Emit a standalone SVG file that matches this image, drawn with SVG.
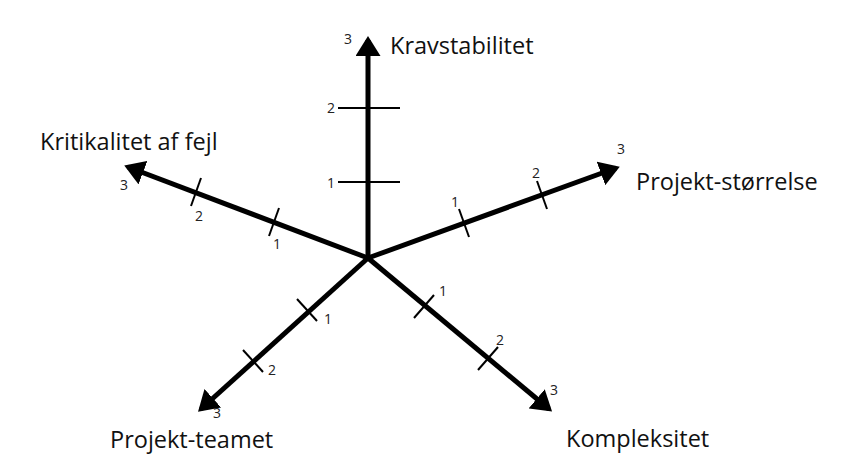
<svg xmlns="http://www.w3.org/2000/svg" width="849" height="471" viewBox="0 0 849 471">
<style>
.ax{stroke:#000;stroke-width:5;fill:none;marker-end:url(#ah)}
.tk{stroke:#000;stroke-width:2}
.n{font-family:"Open Sans","Liberation Sans",sans-serif;font-size:14px;fill:#222}
.l{font-family:"Open Sans","Liberation Sans",sans-serif;font-size:23.5px;fill:#111}
</style>
<defs><marker id="ah" markerWidth="5" markerHeight="5" refX="3.2" refY="2.5" orient="auto" markerUnits="strokeWidth"><path d="M0,0L4,2.5L0,5Z" fill="#000"/></marker></defs>
<rect width="849" height="471" fill="#fff"/>
<g id="connectors">
<line class="ax" x1="368" y1="258" x2="368" y2="40"/>
<line class="ax" x1="368" y1="258" x2="616" y2="168"/>
<line class="ax" x1="368" y1="258" x2="128" y2="167"/>
<line class="ax" x1="368" y1="258" x2="201" y2="409"/>
<line class="ax" x1="368" y1="258" x2="549" y2="409"/>
<line class="tk" x1="338" y1="182" x2="400" y2="182"/>
<line class="tk" x1="338" y1="108" x2="400" y2="108"/>
<line class="tk" x1="459" y1="209" x2="469" y2="237"/>
<line class="tk" x1="537" y1="181" x2="547" y2="209"/>
<line class="tk" x1="279" y1="208" x2="269" y2="236"/>
<line class="tk" x1="201" y1="178" x2="191" y2="206"/>
<line class="tk" x1="297" y1="299" x2="317" y2="321"/>
<line class="tk" x1="243" y1="350" x2="263" y2="372"/>
<line class="tk" x1="434" y1="295" x2="414" y2="318"/>
<line class="tk" x1="498" y1="347" x2="478" y2="370"/>
</g>
<g id="n-krav"><text class="l" x="390" y="54">Kravstabilitet</text><text class="n" x="344" y="44">3</text><text class="n" x="327" y="113">2</text><text class="n" x="327" y="188">1</text></g>
<g id="n-stor"><text class="l" x="636" y="190">Projekt-størrelse</text><text class="n" x="617" y="154">3</text><text class="n" x="532" y="178">2</text><text class="n" x="451" y="207">1</text></g>
<g id="n-krit"><text class="l" x="40" y="150">Kritikalitet af fejl</text><text class="n" x="120" y="190">3</text><text class="n" x="195" y="221">2</text><text class="n" x="273" y="249">1</text></g>
<g id="n-team"><text class="l" x="110" y="448">Projekt-teamet</text><text class="n" x="213" y="418">3</text><text class="n" x="268" y="375">2</text><text class="n" x="324" y="324">1</text></g>
<g id="n-kompl"><text class="l" x="566" y="447">Kompleksitet</text><text class="n" x="550" y="395">3</text><text class="n" x="496" y="345">2</text><text class="n" x="439" y="296">1</text></g>
</svg>
